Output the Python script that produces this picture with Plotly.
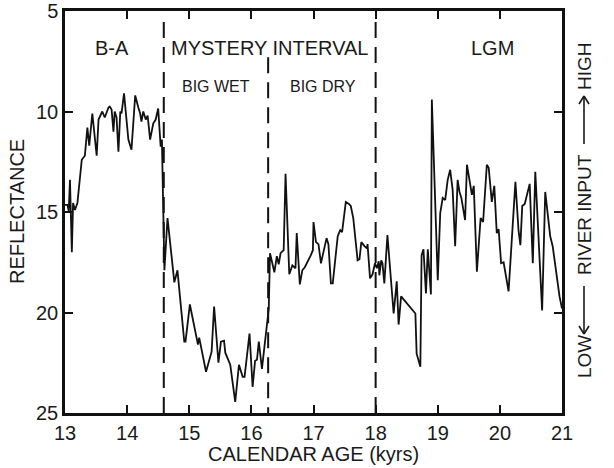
import plotly.graph_objects as go

# ---- data ----
age_kyr = [
    13.00, 13.04, 13.06, 13.08, 13.11, 13.13, 13.16, 13.20, 13.27, 13.32,
    13.36, 13.39, 13.44, 13.47, 13.51, 13.54, 13.60, 13.64, 13.67, 13.70,
    13.72, 13.75, 13.78, 13.80, 13.83, 13.86, 13.89, 13.91, 13.95, 14.02,
    14.07, 14.13, 14.18, 14.21, 14.23, 14.26, 14.30, 14.33, 14.37, 14.42,
    14.46, 14.50, 14.54, 14.56, 14.60, 14.65, 14.76, 14.81, 14.92, 14.94,
    15.01, 15.14, 15.16, 15.27, 15.36, 15.40, 15.47, 15.51, 15.56, 15.58,
    15.66, 15.74, 15.80, 15.86, 15.89, 15.97, 16.02, 16.06, 16.09, 16.12,
    16.17, 16.24, 16.27, 16.28, 16.30, 16.32, 16.37, 16.41, 16.44, 16.47,
    16.52, 16.55, 16.61, 16.66, 16.71, 16.73, 16.78, 16.82, 16.86, 16.95,
    16.99, 17.00, 17.04, 17.08, 17.12, 17.21, 17.24, 17.28, 17.31, 17.39,
    17.43, 17.46, 17.52, 17.57, 17.60, 17.64, 17.71, 17.74, 17.77, 17.82,
    17.86, 17.87, 17.91, 17.95, 17.99, 18.02, 18.05, 18.06, 18.09, 18.11,
    18.14, 18.19, 18.23, 18.29, 18.34, 18.37, 18.41, 18.64, 18.66, 18.72,
    18.74, 18.77, 18.81, 18.84, 18.89, 18.905, 19.00, 19.04, 19.08, 19.12,
    19.16, 19.20, 19.24, 19.28, 19.32, 19.35, 19.38, 19.44, 19.47, 19.55,
    19.58, 19.63, 19.69, 19.73, 19.79, 19.82, 19.87, 19.91, 19.95, 19.98,
    20.02, 20.06, 20.14, 20.25, 20.30, 20.33, 20.36, 20.40, 20.48, 20.53,
    20.57, 20.68, 20.73, 20.81, 20.85, 20.96, 21.00,
]
reflectance = [
    14.65, 14.65, 14.95, 13.40, 17.00, 14.55, 14.90, 14.55, 12.40, 12.20,
    10.80, 11.70, 10.10, 10.90, 12.20, 10.40, 10.00, 10.30, 10.00, 9.80,
    9.75, 9.90, 11.00, 10.00, 10.30, 12.00, 10.00, 10.10, 9.10, 11.40,
    11.90, 9.20, 9.80, 10.10, 10.50, 10.00, 10.40, 10.20, 11.40, 10.60,
    10.40, 9.85, 11.75, 11.40, 17.90, 15.30, 18.50, 17.90, 21.45, 21.45,
    19.60, 21.60, 21.25, 22.95, 21.95, 19.70, 22.50, 21.45, 21.40, 22.00,
    22.60, 24.45, 22.60, 23.20, 23.20, 21.05, 23.70, 22.40, 22.35, 21.45,
    22.80, 20.80, 20.20, 19.80, 17.05, 17.30, 18.00, 17.20, 17.60, 17.05,
    16.90, 13.10, 18.10, 17.65, 17.80, 16.05, 18.60, 17.90, 17.75, 17.20,
    16.90, 15.50, 16.50, 16.60, 17.55, 16.30, 16.60, 18.55, 18.55, 16.20,
    15.90, 16.00, 14.50, 14.60, 14.70, 15.30, 17.40, 17.35, 16.50, 16.70,
    16.80, 16.60, 18.30, 18.10, 17.55, 17.80, 17.45, 18.15, 17.40, 17.55,
    18.55, 16.15, 17.90, 20.05, 18.45, 20.60, 19.20, 20.05, 22.05, 22.70,
    17.15, 16.85, 19.05, 16.85, 19.10, 9.40, 18.40, 15.05, 14.30, 14.40,
    13.40, 12.90, 13.90, 16.70, 13.40, 14.00, 14.30, 15.40, 12.65, 14.15,
    13.70, 17.97, 15.30, 15.50, 12.65, 12.80, 14.50, 13.70, 16.05, 15.85,
    17.55, 17.50, 18.95, 13.50, 15.90, 16.65, 14.70, 14.60, 13.60, 17.55,
    13.00, 19.90, 14.00, 16.20, 16.70, 19.20, 19.80,
]
boundaries = [14.59, 16.27, 18.00]
boundary_tops = [5.55, 7.3, 5.55]
x_ticks = [13, 14, 15, 16, 17, 18, 19, 20, 21]
y_ticks = [5, 10, 15, 20, 25]
period_labels = ["B-A", "MYSTERY INTERVAL", "LGM"]
period_x = [13.76, 16.29, 19.88]
sub_labels = ["BIG WET", "BIG DRY"]
sub_x = [15.43, 17.15]

FONT = "Liberation Sans, Arial, Helvetica, sans-serif"
INK = "#1a1a1a"

W, H = 614, 468
L, R, T, B = 65, 52, 11, 55
PW, PH = W - L - R, H - T - B


def px(xp):
    return (xp - L) / PW


def py(yp):
    return (H - B - yp) / PH


fig = go.Figure()
fig.add_trace(go.Scatter(x=age_kyr, y=reflectance, mode="lines",
                         line=dict(color="#111111", width=1.8),
                         hoverinfo="skip", showlegend=False))

shapes = []
for xb, top in zip(boundaries, boundary_tops):
    shapes.append(dict(type="line", xref="x", yref="y", x0=xb, x1=xb,
                       y0=top, y1=25, line=dict(color="#111111", width=2,
                                                dash="16px,9px")))

# river-input arrows on the right
ax_px = 584
up_tip, up_tail = 96, 144
dn_tip, dn_tail = 334, 286
aw, ah = 5, 8
arrow_lines = [
    (ax_px, up_tail, ax_px, up_tip),
    (ax_px - aw, up_tip + ah, ax_px, up_tip),
    (ax_px + aw, up_tip + ah, ax_px, up_tip),
    (ax_px, dn_tail, ax_px, dn_tip),
    (ax_px - aw, dn_tip - ah, ax_px, dn_tip),
    (ax_px + aw, dn_tip - ah, ax_px, dn_tip),
]
for x0, y0, x1, y1 in arrow_lines:
    shapes.append(dict(type="line", xref="paper", yref="paper",
                       x0=px(x0), y0=py(y0), x1=px(x1), y1=py(y1),
                       line=dict(color=INK, width=1.6)))

annotations = []
for lab, xv in zip(period_labels, period_x):
    annotations.append(dict(x=xv, y=6.85, xref="x", yref="y", text=lab,
                            showarrow=False, font=dict(size=20, color=INK, family=FONT),
                            xanchor="center", yanchor="middle"))
for lab, xv in zip(sub_labels, sub_x):
    annotations.append(dict(x=xv, y=8.75, xref="x", yref="y", text=lab,
                            showarrow=False, font=dict(size=16, color=INK, family=FONT),
                            xanchor="center", yanchor="middle"))

# axis titles
annotations.append(dict(x=0.5, y=py(454), xref="paper", yref="paper",
                        text="CALENDAR AGE (kyrs)", showarrow=False,
                        font=dict(size=20, color=INK, family=FONT),
                        xanchor="center", yanchor="middle"))
annotations.append(dict(x=px(17), y=0.5, xref="paper", yref="paper",
                        text="REFLECTANCE", textangle=-90, showarrow=False,
                        font=dict(size=20, color=INK, family=FONT),
                        xanchor="center", yanchor="middle"))
# right side labels
for lab, yp in [("HIGH", 66), ("RIVER INPUT", 215), ("LOW", 357)]:
    annotations.append(dict(x=px(ax_px), y=py(yp), xref="paper", yref="paper",
                            text=lab, textangle=-90, showarrow=False,
                            font=dict(size=19, color=INK, family=FONT),
                            xanchor="center", yanchor="middle"))

fig.update_layout(
    width=W, height=H,
    margin=dict(l=L, r=R, t=T, b=B, pad=0, autoexpand=False),
    paper_bgcolor="white", plot_bgcolor="white",
    font=dict(family=FONT, color=INK),
    shapes=shapes, annotations=annotations,
    showlegend=False,
)
fig.update_xaxes(range=[13, 21], tickvals=x_ticks, ticktext=[str(v) for v in x_ticks],
                 ticks="inside", ticklen=8, tickwidth=1.5, tickcolor="#111111",
                 showline=True, linewidth=2.5, linecolor="#111111", mirror="allticks",
                 showgrid=False, zeroline=False, automargin=False,
                 tickfont=dict(size=20, color=INK, family=FONT))
fig.update_yaxes(range=[25, 5], tickvals=y_ticks, ticktext=[str(v) for v in y_ticks],
                 ticks="inside", ticklen=8, tickwidth=1.5, tickcolor="#111111",
                 showline=True, linewidth=2.5, linecolor="#111111", mirror="allticks",
                 showgrid=False, zeroline=False, automargin=False,
                 tickfont=dict(size=20, color=INK, family=FONT))

fig.write_html("out.html")
